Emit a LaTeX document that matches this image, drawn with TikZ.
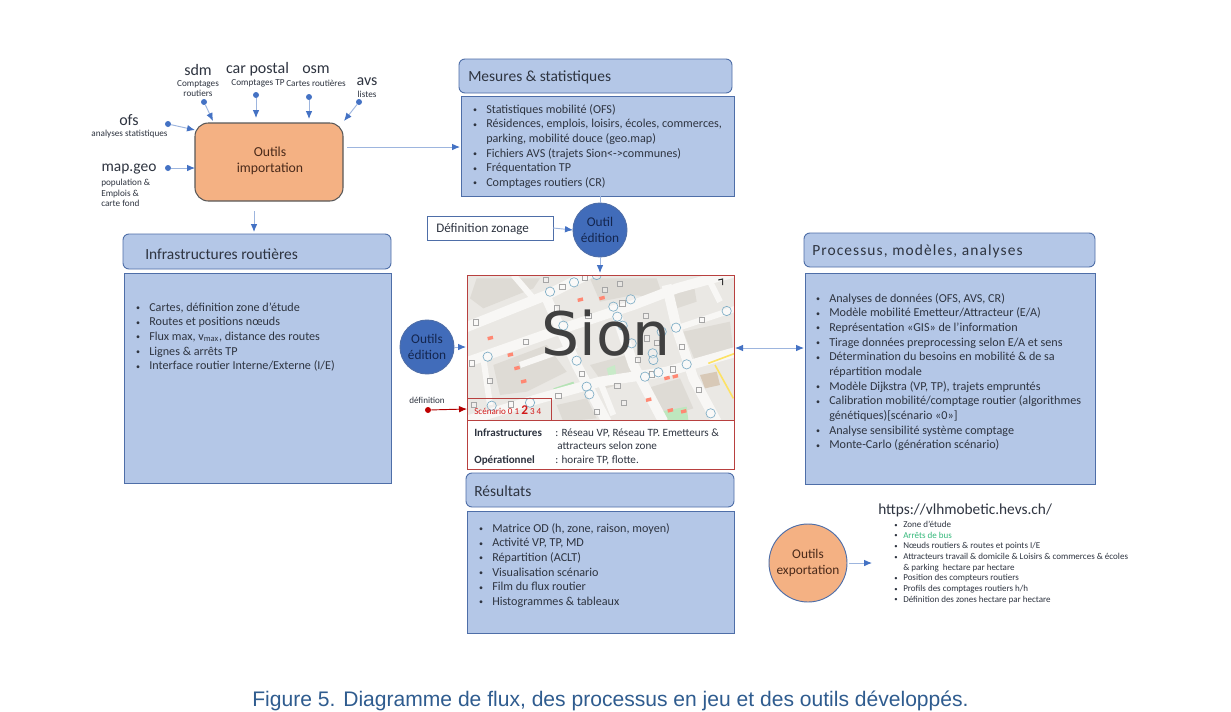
\documentclass[tikz,border=0pt]{standalone}
\usepackage{fontspec}
\setmainfont{Carlito}
\newfontfamily\capfont{Liberation Sans}
\newfontfamily\bigfont{DejaVu Sans}
\usetikzlibrary{arrows.meta}
\def\pxu{0.75pt}
\definecolor{boxblue}{HTML}{B4C7E7}
\definecolor{edgeblue}{HTML}{4E6EA8}
\definecolor{lineblue}{HTML}{9DB5DE}
\definecolor{tipblue}{HTML}{4472C4}
\definecolor{orangefill}{HTML}{F4B183}
\definecolor{txt}{HTML}{2E3440}
\definecolor{mapred}{HTML}{B8403F}
\definecolor{capblue}{HTML}{2F5C8F}
\definecolor{road}{HTML}{F8F7F5}
\definecolor{ground}{HTML}{EAE8E4}
\definecolor{build}{HTML}{DEDBD5}
\definecolor{stopc}{HTML}{7FAEC6}
\definecolor{brownt}{HTML}{4A2A1A}
\definecolor{navyt}{HTML}{14264F}
\tikzset{
  hdr/.style={draw=edgeblue,line width=0.7pt,fill=boxblue,rounded corners=4.5pt,inner sep=0,outer sep=0},
  bodybox/.style={draw=edgeblue,line width=0.7pt,fill=boxblue,inner sep=0,outer sep=0},
  plain/.style={inner sep=0,outer sep=0},
  htitle/.style={anchor=west,inner sep=0,text=txt,font=\fontsize{11.6}{13}\selectfont},
  lst/.style={anchor=north west,inner sep=0,align=left,text=txt,font=\fontsize{9.1}{11}\selectfont},
  small/.style={inner sep=0,align=center,text=txt,font=\fontsize{6.9}{7.8}\selectfont},
  srcname/.style={inner sep=0,text=txt,font=\fontsize{12}{14}\selectfont},
  dot/.style={circle,fill=tipblue,inner sep=0,minimum size=4.5pt},
  reddot/.style={circle,fill=red!75!black,inner sep=0,minimum size=4.5pt},
  flow/.style={draw=lineblue,line width=0.7pt,-{Latex[length=6pt,width=5pt,color=tipblue]}},
  flowback/.style={draw=lineblue,line width=0.7pt,{Latex[length=6pt,width=5pt,color=tipblue]}-{Latex[length=6pt,width=5pt,color=tipblue]}},
  circ/.style={circle,inner sep=0,outer sep=0,align=center,font=\fontsize{10}{12}\selectfont},
  bluecirc/.style={circ,draw=edgeblue,fill=tipblue!95!black,text=navyt,line width=0.7pt,minimum size=40.5pt},
  orangecirc/.style={circ,draw=edgeblue,fill=orangefill,text=brownt,line width=0.7pt,minimum size=58.5pt},
  rd/.style={draw=road,line width=7.5pt},
  rdthin/.style={draw=road,line width=4.5pt},
  sq/.style={draw=gray!70,line width=0.35pt,fill=white,fill opacity=0.3},
  stp/.style={draw=stopc,line width=0.5pt,fill=white,fill opacity=0.3},
}
\newcommand\boxnode[6]{\node[#1,minimum width={(#5-#3)*\pxu},minimum height={(#6-#4)*\pxu}] (#2) at ({(#3+#5)/2},{(#4+#6)/2}) {};}
\newcommand\bu{\makebox[10.5pt][l]{\hspace*{0.6pt}\raisebox{0.6pt}{\fontsize{6}{6}\selectfont\textbullet}}}
\newcommand\bl[1]{\bu#1\\}
\newcommand\cl[1]{\hspace*{10.5pt}#1\\}
\newcommand\bs{\makebox[6.75pt][l]{\raisebox{0.4pt}{\fontsize{5}{5}\selectfont\textbullet}}}
\begin{document}
\begin{tikzpicture}[x=0.75pt,y=-0.75pt]
\useasboundingbox (0,0) rectangle (1231,711);
\fill[white] (0,0) rectangle (1231,711);

% importation
\boxnode{hdr,fill=orangefill,rounded corners=10pt,draw=black!65,line width=0.8pt}{imp}{195}{123}{343}{201}
\node[circ,text=brownt,font=\fontsize{10.3}{12}\selectfont] (impt) at (270,161) {Outils\\importation};

% sources
\node[srcname] (sdm) at (198,69.5) {sdm};
\node[small] (sdmt) at (198,88.5) {Comptages\\routiers};
\node[srcname] (post) at (257.5,69) {car postal};
\node[small] (postt) at (258,83) {Comptages TP};
\node[srcname] (osm) at (316,69.5) {osm};
\node[small] (osmt) at (316,83) {Cartes routières};
\node[srcname] (avs) at (367,81.5) {avs};
\node[small] (avst) at (367,94.5) {listes};
\node[srcname] (ofs) at (129,120) {ofs};
\node[small] (ofst) at (129.5,134) {analyses statistiques};
\node[srcname,font=\fontsize{11.6}{14}\selectfont] (mapg) at (129,169) {map.geo};
\node[small,align=left,anchor=north west,font=\fontsize{6.9}{8}\selectfont] (mapt) at (101,179) {population \&\\Emplois \&\\carte fond};

\node[dot] (d1) at (204,102) {};
\node[dot] (d2) at (256,95) {};
\node[dot] (d3) at (309,97) {};
\node[dot] (d4) at (359,102) {};
\node[dot] (d5) at (168,124) {};
\node[dot] (d6) at (168,168) {};
\coordinate (e1) at (213,121);
\coordinate (e2) at (256,118);
\coordinate (e3) at (309,119);
\coordinate (e4) at (344,121);
\coordinate (e5) at (195,130);
\coordinate (e6) at (195,168);
\foreach \a/\b in {d1/e1,d2/e2,d3/e3,d4/e4,d5/e5,d6/e6} \draw[flow] (\a) -- (\b);

% mesures
\boxnode{hdr}{mesh}{459}{59}{732}{93}
\node[htitle] (mest) at (468,77.5) {Mesures \& statistiques};
\boxnode{bodybox}{mesb}{461}{96}{734}{196}
\node[lst] (mesl) at (472,104) {\bl{Statistiques mobilité (OFS)}\bl{Résidences, emplois, loisirs, écoles, commerces,}\cl{parking, mobilité douce (geo.map)}\bl{Fichiers AVS (trajets Sion<->communes)}\bl{Fréquentation TP}\bl{Comptages routiers (CR)}};

% infra
\boxnode{hdr}{infh}{123}{234}{391}{269}
\node[htitle] (inft) at (145,254.5) {Infrastructures routières};
\boxnode{bodybox}{infb}{124}{273}{391}{483}
\node[lst] (infl) at (135,302.5) {\bl{Cartes, définition zone d’étude}\bl{Routes et positions nœuds}\bl{Flux max, v\textsubscript{max}, distance des routes}\bl{Lignes \& arrêts TP}\bl{Interface routier Interne/Externe (I/E)}};

% processus
\boxnode{hdr}{proh}{804}{233}{1095}{267}
\node[htitle,font=\fontsize{11.6}{13}\selectfont\addfontfeature{LetterSpace=7}] (prot) at (812,251) {Processus, modèles, analyses};
\boxnode{bodybox}{prob}{805}{273}{1095}{484}
\node[lst] (prol) at (815,293) {\bl{Analyses de données (OFS, AVS, CR)}\bl{Modèle mobilité Emetteur/Attracteur (E/A)}\bl{Représentation «GIS» de l’information}\bl{Tirage données preprocessing selon E/A et sens}\bl{Détermination du besoins en mobilité \& de sa}\cl{répartition modale}\bl{Modèle Dijkstra (VP, TP), trajets empruntés}\bl{Calibration mobilité/comptage routier (algorithmes}\cl{génétiques)[scénario «0»]}\bl{Analyse sensibilité système comptage}\bl{Monte-Carlo (génération scénario)}};

% resultats
\boxnode{hdr}{resh}{466}{473}{734}{507}
\node[htitle] (rest) at (474,491) {Résultats};
\boxnode{bodybox}{resb}{467}{511}{734}{633}
\node[lst] (resl) at (478,523) {\bl{Matrice OD (h, zone, raison, moyen)}\bl{Activité VP, TP, MD}\bl{Répartition (ACLT)}\bl{Visualisation scénario}\bl{Film du flux routier}\bl{Histogrammes \& tableaux}};

% zonage and circles
\boxnode{bodybox,fill=white}{zon}{427}{216}{553}{240}
\node[htitle,font=\fontsize{9.8}{11}\selectfont] (zont) at (436,229) {Définition zonage};
\node[bluecirc] (oute) at (600,230) {Outil\\édition};
\node[bluecirc] (edit) at (427,347) {Outils\\édition};
\node[orangecirc] (expo) at (808,563) {Outils\\exportation};

% map
\begin{scope}
\clip (467,275) rectangle (734,420);
\fill[ground] (467,275) rectangle (734,420);
\begin{scope}[shift={(400,265)},x=0.25pt,y=-0.25pt]
 \fill[build] (230,40) -- (420,40) -- (400,70) -- (250,130) -- (210,100) -- cycle;
 \fill[build] (570,40) -- (770,40) -- (790,100) -- (700,90) -- (600,110) -- cycle;
 \fill[build] (280,300) -- (440,240) -- (500,320) -- (380,380) -- (300,390) -- cycle;
 \fill[build] (570,300) -- (680,270) -- (710,340) -- (620,370) -- cycle;
 \fill[build] (740,370) -- (840,340) -- (880,430) -- (790,460) -- cycle;
 \fill[build] (850,200) -- (990,170) -- (1000,260) -- (890,300) -- cycle;
 \fill[build] (810,60) -- (880,50) -- (890,110) -- (830,130) -- cycle;
 \fill[build] (470,420) -- (560,400) -- (590,460) -- (490,470) -- cycle;
 \fill[build!80!brown] (900,330) -- (950,320) -- (960,360) -- (915,370) -- cycle;
 \fill[green!45!gray!40] (460,370) -- (520,350) -- (530,375) -- (470,395) -- cycle;
 \fill[green!45!gray!30] (620,310) -- (645,300) -- (650,345) -- (630,350) -- cycle;
 \fill[green!45!gray!35] (780,440) -- (860,425) -- (865,465) -- (790,465) -- cycle;
 \draw[rd] (190,190) -- (440,90) -- (580,20);
 \draw[rd] (190,295) -- (490,190) -- (700,120) -- (830,70) -- (1010,20);
 \draw[rd] (190,470) -- (420,400) -- (600,350) -- (800,320) -- (1010,260);
 \draw[rd] (440,100) -- (530,300) -- (620,470);
 \draw[rd] (640,120) -- (700,300) -- (790,470);
 \draw[rd] (800,60) -- (830,190) -- (880,340) -- (950,470);
 \draw[rdthin] (250,280) -- (270,420);
 \draw[rdthin] (830,190) -- (1010,130);
 \draw[rdthin] (340,30) -- (400,100);
 \draw[rdthin] (600,350) -- (640,450);
 \draw[rdthin] (930,50) -- (960,110);
 \draw[rdthin] (360,300) -- (530,240);
 % red marks
 \foreach \a/\b in {540/105,270/220,350/310,370/350,745/405,810/437,850/440,825/335,800/340,330/270,605/100} \fill[red!70!orange!55] (\a-8,\b-4) -- (\a+8,\b-8) -- (\a+10,\b+2) -- (\a-6,\b+6) -- cycle;
 \draw[yellow!70!orange!60,line width=1.2pt] (925,295) -- (1005,265) (945,300) -- (1000,400);
 % squares
 \foreach \a/\b in {437/45,487/65,555/38,615/75,660/57,667/115,470/130,565/153,738/153,905/165,227/172,378/230,740/220,770/233,845/245,713/285,215/295,545/327,270/348,652/362,818/313,755/328,897/375,475/392,672/413,590/440,222/420,333/418}
   \draw[sq] (\a-8,\b-8) rectangle (\a+8,\b+8);
 % stops
 \foreach \a/\b in {450/80,522/52,590/30,640/125,692/103,652/155,668/182,490/182,828/188,785/200,980/138,695/235,758/265,760/285,860/298,775/322,735/335,530/287,263/275,560/365,568/388,275/422,390/413,932/445}
   \draw[stp] (\a,\b) circle (14);
 \draw[black!80,line width=0.8pt] (955,45) -- (968,42) -- (968,60);
 \node[inner sep=0,text=black!75,font=\bigfont\fontsize{45}{45}\selectfont] (sion) at (618,205) {Sion};
\end{scope}
\end{scope}
\boxnode{plain,draw=mapred,line width=0.65pt,fill=none}{map}{467}{275}{734}{420}
\boxnode{plain,draw=mapred,line width=0.65pt,fill=none}{scen}{467}{398}{551}{420}
\node[inner sep=0,anchor=west,text=red!80!black!90,font=\fontsize{6.8}{8}\selectfont] (sct) at (474,410) {Scénario 0 1 {\fontsize{10}{10}\selectfont\bfseries 2} 3 4};

\boxnode{plain,draw=mapred,line width=0.65pt,fill=white}{info}{467}{420}{734}{469}
\begin{scope}[every node/.style={anchor=west,inner sep=0,text=txt,font=\fontsize{8.35}{10}\selectfont}]
\node[font=\fontsize{8.3}{10}\selectfont\bfseries] (i1) at (474,433) {Infrastructures};
\node (i2) at (555,433) {: Réseau VP, Réseau TP. Emetteurs \&};
\node (i3) at (557,446) {attracteurs selon zone};
\node[font=\fontsize{8.3}{10}\selectfont\bfseries] (i4) at (474,460) {Opérationnel};
\node (i5) at (555,460) {: horaire TP, flotte.};
\end{scope}

% definition
\node[inner sep=0,text=txt,font=\fontsize{6.8}{8}\selectfont] (deft) at (427,400) {définition};
\node[reddot] (defd) at (428,410) {};
\draw[draw=red!70!black,line width=0.7pt,-{Latex[length=6pt,width=5pt]}] (defd) -- (scen.west);

% connectors
\coordinate (impE) at (347,147);
\coordinate (mesW) at (460,147);
\coordinate (impS) at (254,211);
\coordinate (infN) at (254,232);
\draw[flow] (impE) -- (mesW);
\draw[flow] (impS) -- (infN);
\draw[flow] (zon.east) -- (oute.west);
\draw[draw=lineblue,line width=0.7pt] (mesb.south -| oute) -- (oute.north);
\coordinate (mapN) at (600,273);
\draw[flow] (oute.south) -- (mapN);
\coordinate (mapW) at (466,347);
\draw[flow] (edit.east) -- (mapW);
\coordinate (mapE) at (735,348);
\coordinate (proW) at (804,348);
\draw[flowback] (mapE) -- (proW);
\coordinate (expE) at (872,563);
\coordinate (expS) at (849,563);
\draw[flow] (expS) -- (expE);

% export list
\node[inner sep=0,anchor=west,text=txt,font=\fontsize{11.5}{14}\selectfont] (url) at (878,510) {https://vlhmobetic.hevs.ch/};
\node[anchor=north west,inner sep=0,align=left,text=txt,font=\fontsize{6.75}{8}\selectfont] (expl) at (894,521) {\bs Zone d’étude\\\bs\textcolor{teal!70!green!80}{Arrêts de bus}\\\bs Nœuds routiers \& routes et points I/E\\\bs Attracteurs travail \& domicile \& Loisirs \& commerces \& écoles\\\hspace*{6.75pt}\& parking\ \ hectare par hectare\\\bs Position des compteurs routiers\\\bs Profils des comptages routiers h/h\\\bs Définition des zones hectare par hectare};

% caption
\node[inner sep=0,text=capblue,font=\capfont\fontsize{15.8}{18}\selectfont] (cap) at (610.5,701) {Figure 5. Diagramme de flux, des processus en jeu et des outils développés.};
\end{tikzpicture}
\end{document}
